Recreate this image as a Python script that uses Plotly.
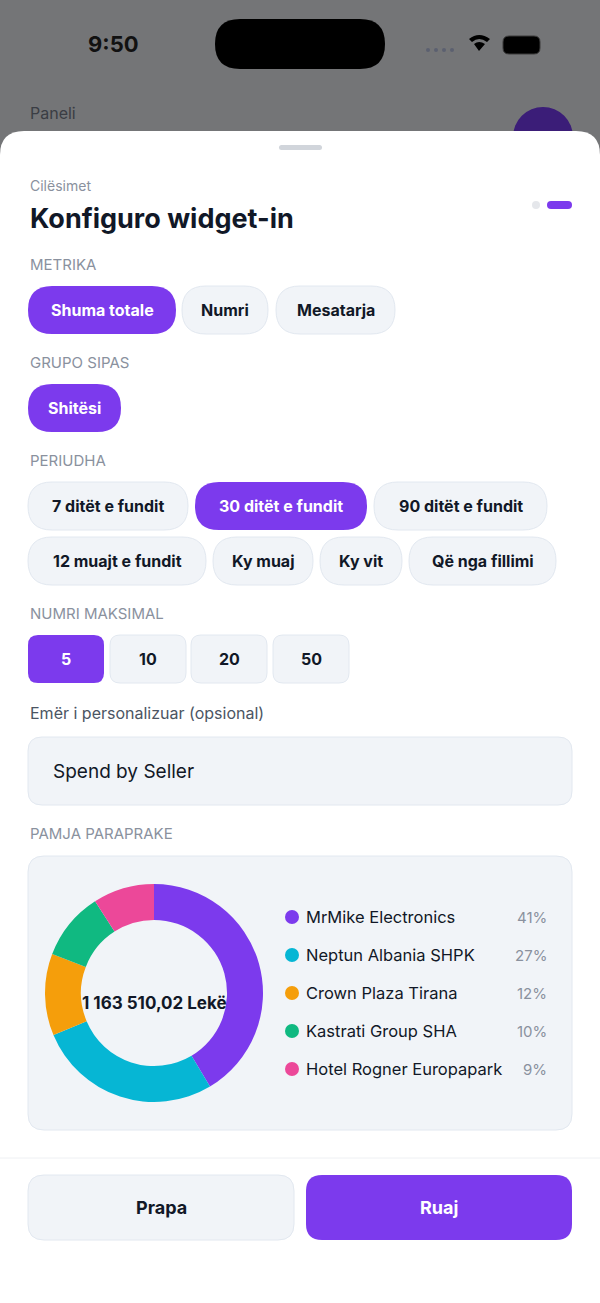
import plotly.graph_objects as go

sellers = ["MrMike Electronics", "Neptun Albania SHPK", "Crown Plaza Tirana", "Kastrati Group SHA", "Hotel Rogner Europapark"]
shares = [41, 27, 12, 10, 9]
colors = ["#7c3aed", "#06b6d4", "#f59e0b", "#10b981", "#ec4899"]
total_label = "1 163 510,02 Lekë"
metric_opts = ["Shuma totale", "Numri", "Mesatarja"]
group_opts = ["Shitësi"]
period_opts = ["7 ditët e fundit", "30 ditët e fundit", "90 ditët e fundit", "12 muajt e fundit", "Ky muaj", "Ky vit", "Që nga fillimi"]
max_opts = ["5", "10", "20", "50"]

W, H = 600, 1303
PURPLE = "#7c3aed"
DARK = "#111827"
CHIP = "#f1f4f8"
BORDER = "#e2e8f0"
FONT = "Inter"

shapes, ann = [], []

def rr(x0, y0, x1, y1, r, fill, line=None, top_only=False):
    rb = 0 if top_only else r
    p = (f"M{x0+r},{y0} L{x1-r},{y0} Q{x1},{y0} {x1},{y0+r} L{x1},{y1-rb} Q{x1},{y1} {x1-rb},{y1} "
         f"L{x0+rb},{y1} Q{x0},{y1} {x0},{y1-rb} L{x0},{y0+r} Q{x0},{y0} {x0+r},{y0} Z")
    shapes.append(dict(type="path", path=p, xref="x", yref="y", fillcolor=fill,
                       line=dict(color=line or fill, width=1 if line else 0), layer="below"))

def txt(x, y, s, size=16, color=DARK, anchor="left", bold=False):
    ann.append(dict(x=x, y=y, xref="x", yref="y", text=f"<b>{s}</b>" if bold else s, showarrow=False,
                    xanchor=anchor, yanchor="middle", font=dict(family=FONT, size=size, color=color)))

# background / status bar
shapes.append(dict(type="rect", x0=0, y0=0, x1=W, y1=H, xref="x", yref="y", fillcolor="#747577", line_width=0, layer="below"))
txt(113, 44, "9:50", 22, "#111111", "center", True)
rr(215, 19, 385, 69, 25, "#000000")
for i in range(4):
    shapes.append(dict(type="circle", x0=426+i*8, y0=48, x1=430+i*8, y1=52, xref="x", yref="y", fillcolor="#5b6070", line_width=0))
rr(503, 36, 540, 54, 6, "#000000", "#3a3a3a")
shapes.append(dict(type="path", path="M469,39 Q479,31 490,39 L487,42 Q479,36 472,42 Z M474,44 Q479,40 485,44 L479,51 Z",
                   xref="x", yref="y", fillcolor="#000000", line_width=0))
txt(28, 113, "Paneli", 16, "#3a3d44")
shapes.append(dict(type="circle", x0=513, y0=107, x1=573, y1=167, xref="x", yref="y", fillcolor="#3b1d78", line_width=0, layer="below"))

# sheet
rr(0, 131, 600, 1303, 24, "#ffffff", top_only=True)
rr(279, 145, 322, 150, 2.5, "#d1d5db")
txt(28, 185, "Cilësimet", 14, "#8a919e")
txt(28, 218, "Konfiguro widget-in", 27, DARK, bold=True)
shapes.append(dict(type="circle", x0=532, y0=201, x1=540, y1=209, xref="x", yref="y", fillcolor="#e5e7eb", line_width=0))
rr(547, 201, 572, 209, 4, PURPLE)

def label(y, s):
    txt(28, y, s, 15, "#8a919e")

def chip(x0, x1, y0, y1, s, sel, r=24):
    rr(x0, y0, x1, y1, r, PURPLE if sel else CHIP, None if sel else BORDER)
    txt((x0+x1)/2, (y0+y1)/2, f"<b>{s}</b>", 16, "#ffffff" if sel else DARK, "center")

label(264, "METRIKA")
for (a, b), s, sel in zip([(28, 176), (182, 268), (276, 395)], metric_opts, [1, 0, 0]):
    chip(a, b, 286, 334, s, sel)
label(362, "GRUPO SIPAS")
chip(28, 121, 384, 432, group_opts[0], 1)
label(460, "PERIUDHA")
pos = [(28, 188, 482), (195, 367, 482), (374, 547, 482), (28, 206, 537), (213, 313, 537), (320, 402, 537), (409, 556, 537)]
for (a, b, y), s, sel in zip(pos, period_opts, [0, 1, 0, 0, 0, 0, 0]):
    chip(a, b, y, y+48, s, sel)
label(613, "NUMRI MAKSIMAL")
for (a, b), s, sel in zip([(28, 104), (110, 186), (191, 267), (273, 349)], max_opts, [1, 0, 0, 0]):
    chip(a, b, 635, 683, s, sel, r=10)
txt(28, 713, "Emër i personalizuar (opsional)", 16, "#4b5563")
rr(28, 737, 572, 805, 14, CHIP, BORDER)
txt(51, 771, "Spend by Seller", 19, DARK)
label(833, "PAMJA PARAPRAKE")
rr(28, 856, 572, 1130, 16, CHIP, BORDER)

ys = [917, 955, 993, 1031, 1069]
for y, s, p, c in zip(ys, sellers, shares, colors):
    shapes.append(dict(type="circle", x0=285, y0=y-7, x1=299, y1=y+7, xref="x", yref="y", fillcolor=c, line_width=0))
    txt(304, y, s, 16.5, DARK)
    txt(549, y, f"{p}%", 15, "#8a919e", "right")
txt(154, 1003, total_label, 17, DARK, "center", True)

# footer
shapes.append(dict(type="line", x0=0, x1=600, y0=1158, y1=1158, xref="x", yref="y", line=dict(color="#eef0f3", width=1)))
rr(28, 1175, 294, 1240, 16, CHIP, BORDER)
txt(161, 1207, "Prapa", 18, DARK, "center", True)
rr(306, 1175, 572, 1240, 16, PURPLE)
txt(439, 1207, "Ruaj", 18, "#ffffff", "center", True)

fig = go.Figure()
fig.add_trace(go.Pie(values=shares, labels=sellers, marker=dict(colors=colors, line=dict(width=0)),
                     hole=0.67, sort=False, direction="clockwise", rotation=0, textinfo="none",
                     hoverinfo="label+percent", showlegend=False,
                     domain=dict(x=[45/W, 263/W], y=[1-1102/H, 1-884/H])))
fig.update_layout(width=W, height=H, margin=dict(l=0, r=0, t=0, b=0), paper_bgcolor="#ffffff",
                  plot_bgcolor="rgba(0,0,0,0)", shapes=shapes, annotations=ann, showlegend=False,
                  xaxis=dict(range=[0, W], visible=False, fixedrange=True),
                  yaxis=dict(range=[H, 0], visible=False, fixedrange=True))
fig.write_html("out.html", config={"displayModeBar": False},
               post_script="document.body.style.margin='0';document.body.style.overflow='hidden';")
